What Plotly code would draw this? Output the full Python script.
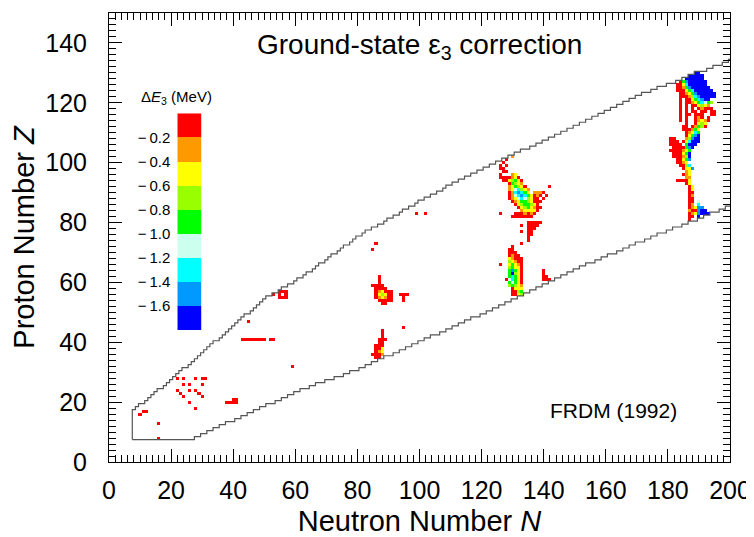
import plotly.graph_objects as go

# ---------------- data ----------------
# nuclide-table boundary: highest / lowest Z for each N = 8 .. 200
boundary_N_first = 8
upper_Zmax = [17, 18, 19, 19, 20, 21, 22, 23, 24, 24, 25, 26, 27,
              28, 29, 30, 31, 31, 32, 33, 34, 35, 36,
              37, 38, 39, 40, 40, 41, 42, 43, 44, 45,
              46, 47, 48, 49, 49, 50, 51, 52, 53, 54,
              55, 55, 56, 56, 57, 58, 58, 59, 59, 60,
              61, 61, 62, 63, 63, 64, 65, 66, 66, 67,
              68, 69, 69, 70, 71, 72, 72, 73, 74, 75,
              75, 76, 77, 77, 78, 78, 79, 79, 80, 81,
              81, 82, 82, 83, 84, 84, 85, 85, 86, 87,
              87, 88, 88, 89, 89, 90, 90, 91, 92, 92,
              93, 93, 94, 94, 95, 95, 96, 96, 97, 97,
              98, 98, 99, 99, 100, 100, 101, 101, 102, 102,
              103, 103, 104, 104, 104, 105, 105, 106, 106, 107,
              107, 108, 108, 109, 109, 110, 110, 111, 111, 112,
              112, 113, 113, 114, 114, 115, 115, 116, 116, 117,
              117, 118, 118, 119, 119, 120, 120, 121, 121, 122,
              122, 123, 123, 123, 124, 124, 125, 125, 125, 126,
              126, 126, 127, 127, 128, 128, 129, 129, 130, 130,
              130, 130, 131, 131, 132, 132, 132, 133, 133, 134]
lower_Zmin = [8, 8, 8, 8, 8, 8, 8, 8, 8, 8, 8, 8, 8,
              8, 8, 8, 8, 8, 8, 8, 9, 9, 10,
              10, 11, 11, 12, 12, 13, 13, 14, 14, 14,
              15, 15, 16, 16, 17, 17, 18, 18, 19, 19,
              20, 20, 20, 21, 21, 22, 22, 23, 23, 24,
              24, 25, 25, 25, 26, 26, 27, 27, 27, 28,
              28, 28, 29, 29, 29, 30, 30, 31, 31, 31,
              32, 32, 33, 33, 34, 34, 35, 35, 36, 36,
              36, 37, 37, 38, 38, 39, 39, 40, 40, 41,
              41, 42, 42, 43, 43, 43, 44, 44, 45, 45,
              46, 46, 47, 47, 48, 48, 49, 49, 49, 50,
              50, 51, 51, 52, 52, 53, 53, 54, 54, 55,
              55, 56, 56, 57, 57, 58, 58, 59, 59, 60,
              60, 61, 61, 62, 62, 63, 63, 64, 64, 65,
              65, 66, 66, 67, 67, 67, 68, 68, 69, 69,
              70, 70, 70, 71, 71, 72, 72, 73, 73, 74,
              74, 74, 75, 75, 76, 76, 77, 77, 77, 78,
              78, 79, 79, 79, 80, 80, 81, 81, 81, 82,
              82, 83, 83, 84, 84, 84, 85, 85, 86, 86]

# Delta E3 levels (MeV): one code letter per colour class
level_codes = ["r", "o", "y", "l", "g", "p", "c", "d", "b"]
level_values = [-0.1, -0.3, -0.5, -0.7, -0.9, -1.1, -1.3, -1.5, -1.7]
level_colors = ["#ff0000", "#ff9900", "#ffff00", "#99ff00", "#00ff00",
                "#ccffee", "#00ffff", "#0099ff", "#0000ff"]
legend_ticks = [-1.6, -1.4, -1.2, -1.0, -0.8, -0.6, -0.4, -0.2]

# isolated small corrections (N, Z), all in the top class
light_red_cells = [(10, 16), (11, 17), (12, 17), (16, 13), (16, 8),
                   (22, 28), (24, 28), (28, 28), (30, 28), (31, 28),
                   (24, 26), (26, 26), (30, 26), (22, 24), (26, 24), (28, 24),
                   (23, 23), (29, 23), (24, 22), (30, 22), (26, 20), (28, 18),
                   (45, 47), (59, 32), (99, 83), (102, 83), (86, 73), (85, 71),
                   (95, 45)]

# rows of cells: (Z, first N, codes), "." = no correction
rows_light = [(57, 55, "rrr"), (56, 53, "r.r.r"), (55, 55, "rrr"),
              (41, 43, "rrrrrrrr.rr"),
              (21, 40, "rr"), (20, 38, "rrrr")]

rows_n88 = [(62, 87, "r"), (61, 87, "r"), (60, 87, "r"),
            (59, 85, "rrrr"), (58, 86, "rrrr"),
            (57, 86, "royrrr"), (56, 86, "rylyrr"), (55, 86, "royorr"),
            (54, 87, "rrrrr"), (53, 88, "rr"),
            (56, 94, "rrr"), (55, 95, "r"), (54, 95, "r"),
            (44, 88, "r"), (43, 88, "r"), (42, 88, "r"), (41, 87, "rrr"),
            (40, 87, "rr"), (39, 86, "rrr"), (38, 86, "rry"), (37, 86, "roy"),
            (36, 85, "rrro"), (35, 86, "rr")]

rows_n130 = [(102, 130, "o"), (101, 128, "r"), (100, 127, "r"),
             (99, 126, "r.r"), (98, 126, "rr"), (97, 127, "rr"),
             (96, 126, "r...oy"), (95, 126, "rrrroyr"),
             (94, 127, "rrylgyr"), (93, 129, "rglyo"),
             (92, 129, "oyglyr.......r"), (91, 129, "oypclyo"),
             (90, 129, "rocdcgy.ooor"), (89, 129, "ropcdcgyror.r"),
             (88, 129, "roypcplyrr.r"), (87, 130, "roygglyrrr"),
             (86, 131, "rylgglyr"), (85, 132, "rylgyorr"),
             (84, 133, "oyyyyr"), (83, 126, "r....rrroror"),
             (82, 130, "rrrrrrr"),
             (80, 135, "rrrrr"), (79, 133, "r.rrrr"), (78, 135, "rrr"),
             (77, 133, "r.rr"), (76, 135, "rr"), (75, 135, "r"),
             (74, 135, "r"), (73, 133, "r"), (72, 130, "r"),
             (71, 129, "rr"), (70, 129, "rrr"), (69, 129, "rorr"),
             (68, 129, "yorrr"), (67, 129, "lyorr"), (66, 126, "r..ygyor"),
             (65, 129, "lgyyr"), (64, 129, "gdgyr......r"),
             (63, 129, "gblyr......r"), (62, 129, "gcgyr......rr"),
             (61, 128, "rpcgyr......rrr"), (60, 129, "gpgyr"),
             (59, 129, "lglyo"), (58, 130, "ryyy"), (57, 130, "rrlg"),
             (56, 130, "rryl")]

rows_n185 = [(130, 189, "bb"), (129, 187, "bbbbb"), (128, 185, "pbbbbbb"),
             (127, 184, "rgdbbbbbb"), (126, 183, "rrycbbbbbb"),
             (125, 183, "rrogdbbbbbb"), (124, 183, "rrrygcbbbbbb"),
             (123, 184, "rroygdbbbbbb"), (122, 184, "rrrolcdbbbbb"),
             (121, 184, "r.rrygcdbb"), (120, 184, "r.rroygcpgl"),
             (119, 184, "r.r.rrylyo"), (118, 184, "r.r.r.rorrr"),
             (117, 184, "r.r.rr.rr.rr"), (116, 184, "r.rr.rrr..rr"),
             (115, 184, "r.r..ror.r"), (114, 184, "r.r..royor"),
             (113, 186, "r..ryly"), (112, 185, "rr.roglr"),
             (111, 185, "rrrogy"), (110, 186, "roycg"), (109, 186, "rygdb"),
             (108, 181, "rr...oldbb"), (107, 181, "rrr.rycbbb"),
             (106, 181, "rrrr.gbbb"), (105, 182, "rrrrgdb"),
             (104, 181, "rrrroyg"), (103, 182, "rrrygb"), (102, 182, "rrrolb"),
             (101, 183, "rrygd"), (100, 183, "rroy"), (99, 184, "rrlc"),
             (98, 185, "ryyd"), (97, 186, "oy"), (96, 185, "roy"),
             (95, 186, "oo"), (94, 183, "rrrry"), (93, 186, "ry"),
             (92, 187, "ry"), (91, 187, "ry"), (90, 187, "rr"),
             (89, 187, "ro"), (88, 187, "rr"), (87, 187, "rr.p"),
             (86, 187, "ro.c"), (85, 187, "roydd"), (84, 187, "orrdbb"),
             (83, 187, "roydbbb"), (82, 187, "rr.b"), (81, 187, "r")]

# ---------------- build ----------------
code_value = dict(zip(level_codes, level_values))
N_axis = list(range(0, 201))
Z_axis = list(range(0, 151))
grid = [[None] * len(N_axis) for _ in Z_axis]
for n, z in light_red_cells:
    grid[z][n] = code_value["r"]
for rows in (rows_light, rows_n88, rows_n130, rows_n185):
    for z, n0, codes in rows:
        for k, ch in enumerate(codes):
            if ch in code_value:
                grid[z][n0 + k] = code_value[ch]

zmin, zmax = -1.8, 0.0
nlev = len(level_colors)
colorscale = []
for i, col in enumerate(reversed(level_colors)):
    colorscale.append([i / nlev, col])
    colorscale.append([(i + 1) / nlev, col])

# staircase outlines along the cell edges
ux, uy = [boundary_N_first - 0.5], [lower_Zmin[0] - 0.5]
lx, ly = [boundary_N_first - 0.5], [lower_Zmin[0] - 0.5]
for i, (zt, zb) in enumerate(zip(upper_Zmax, lower_Zmin)):
    n = boundary_N_first + i
    ux += [n - 0.5, n + 0.5]
    uy += [zt + 0.5, zt + 0.5]
    lx += [n - 0.5, n + 0.5]
    ly += [zb - 0.5, zb - 0.5]

FONT = "Liberation Sans, Arial, Helvetica, sans-serif"

fig = go.Figure()
fig.add_trace(go.Heatmap(x=N_axis, y=Z_axis, z=grid, zmin=zmin, zmax=zmax,
                         colorscale=colorscale, showscale=False,
                         hoverongaps=False))
for xs, ys in ((ux, uy), (lx, ly)):
    fig.add_trace(go.Scatter(x=xs, y=ys, mode="lines",
                             line=dict(color="#555555", width=1.2),
                             hoverinfo="skip", showlegend=False))

# legend bar
fig.add_trace(go.Heatmap(x=[0], y=level_values,
                         z=[[v] for v in level_values],
                         zmin=zmin, zmax=zmax, colorscale=colorscale,
                         showscale=False, xaxis="x2", yaxis="y2",
                         hoverinfo="skip"))

axis_common = dict(showline=True, linecolor="black", linewidth=1,
                   mirror="ticks", ticks="inside", ticklen=13, tickwidth=1,
                   tickcolor="black", showgrid=False, zeroline=False,
                   automargin=False,
                   tickfont=dict(family=FONT, size=25, color="black"),
                   minor=dict(ticks="inside", ticklen=7, tickwidth=1,
                              tickcolor="black", dtick=2, showgrid=False))

# the page places the figure 8 px from the window's top-left corner
fig.update_layout(
    width=746, height=529,
    margin=dict(l=101, r=24, t=5, b=75, autoexpand=False),
    paper_bgcolor="white", plot_bgcolor="white",
    font=dict(family=FONT, color="black"),
    showlegend=False,
    xaxis=dict(range=[0, 200], tick0=0, dtick=20, ticklabelstandoff=6,
               title=dict(text="Neutron Number <i>N</i>",
                          font=dict(family=FONT, size=29), standoff=11),
               **axis_common),
    yaxis=dict(range=[0, 150], tick0=0, dtick=20, ticklabelstandoff=16,
               title=dict(text="Proton Number <i>Z</i>",
                          font=dict(family=FONT, size=29), standoff=4),
               **axis_common),
    xaxis2=dict(domain=[0.110, 0.1493], anchor="y2", visible=False,
                range=[-0.5, 0.5], automargin=False),
    yaxis2=dict(domain=[0.294, 0.7766], anchor="x2", range=[zmin, zmax],
                tickvals=legend_ticks,
                ticktext=["\u2212\u2009" + f"{abs(v):.1f}" for v in legend_ticks],
                ticks="", showline=False, showgrid=False, zeroline=False,
                ticklabelstandoff=6, automargin=False,
                tickfont=dict(family=FONT, size=15, color="black")),
    annotations=[
        dict(text="Ground-state \u03b5<sub>3</sub> correction", xref="paper",
             yref="paper", x=0.5, y=0.9265, xanchor="center", yanchor="middle",
             showarrow=False, font=dict(family=FONT, size=28, color="black")),
        dict(text="FRDM (1992)", xref="paper", yref="paper", x=0.813,
             y=0.1136, xanchor="center", yanchor="middle", showarrow=False,
             font=dict(family=FONT, size=21, color="black")),
        dict(text="\u0394<i>E</i><sub>3</sub> (MeV)", xref="paper",
             yref="paper", x=0.108, y=0.811, xanchor="center",
             yanchor="middle", showarrow=False,
             font=dict(family=FONT, size=15, color="black")),
    ],
)

fig.write_html("out.html")
